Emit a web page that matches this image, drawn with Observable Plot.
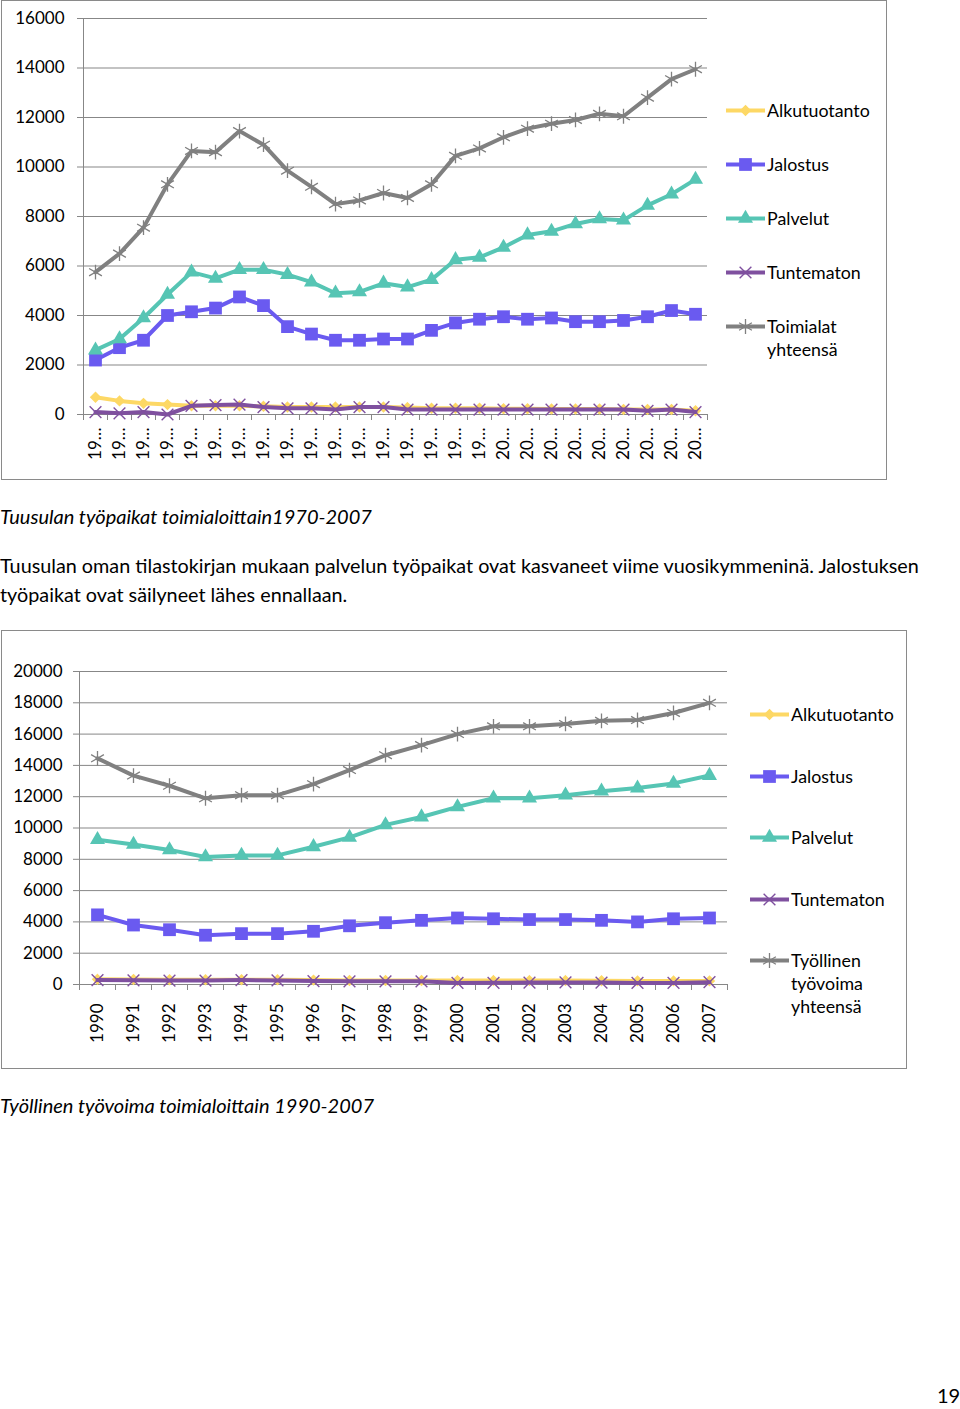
<!DOCTYPE html>
<html>
<head>
<meta charset="utf-8">
<script src="https://cdn.jsdelivr.net/npm/d3@7"></script>
<script src="https://cdn.jsdelivr.net/npm/@observablehq/plot@0.6"></script>
<style>
  body { margin: 0; background: #fff; font-family: Lato, "Open Sans", sans-serif; color: #000; }
  #page { position: relative; width: 960px; height: 1409px; overflow: hidden; }
  .box { position: absolute; border: 1px solid #8a8a8a; box-sizing: border-box; }
  .abs { position: absolute; white-space: nowrap; }
  .cap { font-style: italic; font-size: 20px; line-height: 24px; }
  .para { font-size: 19.8px; line-height: 24px; }
  .leg { position: absolute; font-size: 17.8px; line-height: 23px; white-space: nowrap; }
  .leg svg { position: absolute; left: 0; top: 0; overflow: visible; }
</style>
</head>
<body>
<div id="page"></div>
<script>
// ---------- Data: chart 1 (Tuusulan työpaikat toimialoittain 1970-2007) ----------
const cats1 = ["19…","19…","19…","19…","19…","19…","19…","19…","19…","19…","19…","19…","19…","19…","19…","19…","19…",
               "20…","20…","20…","20…","20…","20…","20…","20…","20…"];
const alku1 = [700, 550, 450, 400, 350, 350, 350, 330, 300, 300, 300, 300, 300, 280, 250, 250, 250, 230, 230, 220, 220, 220, 200, 200, 200, 150];
const jal1  = [2200, 2700, 3000, 4000, 4150, 4300, 4750, 4400, 3550, 3250, 3000, 3000, 3050, 3050, 3400, 3700, 3850, 3950, 3850, 3900, 3750, 3750, 3800, 3950, 4200, 4050];
const pal1  = [2600, 3050, 3900, 4850, 5750, 5500, 5850, 5850, 5650, 5350, 4900, 4950, 5300, 5150, 5450, 6250, 6350, 6750, 7250, 7400, 7700, 7900, 7850, 8450, 8900, 9500];
const tun1  = [100, 50, 100, 0, 350, 380, 400, 300, 250, 250, 200, 300, 300, 200, 200, 200, 200, 200, 200, 200, 200, 200, 200, 150, 200, 100];
const tot1  = [5750, 6500, 7550, 9300, 10650, 10600, 11450, 10900, 9850, 9200, 8500, 8650, 8950, 8750, 9300, 10450, 10750, 11200, 11550, 11750, 11900, 12150, 12050, 12800, 13550, 13950];
const yTicks1 = [0, 2000, 4000, 6000, 8000, 10000, 12000, 14000, 16000];

// ---------- Data: chart 2 (Työllinen työvoima toimialoittain 1990-2007) ----------
const cats2 = ["1990","1991","1992","1993","1994","1995","1996","1997","1998","1999","2000","2001","2002","2003","2004","2005","2006","2007"];
const alku2 = [330, 320, 300, 300, 300, 300, 280, 260, 260, 260, 250, 250, 250, 250, 240, 230, 230, 230];
const jal2  = [4450, 3800, 3500, 3150, 3250, 3250, 3400, 3750, 3950, 4100, 4250, 4200, 4150, 4150, 4100, 4000, 4200, 4250];
const pal2  = [9250, 8950, 8600, 8150, 8250, 8250, 8800, 9400, 10200, 10700, 11350, 11900, 11900, 12100, 12350, 12550, 12850, 13350];
const tun2  = [280, 270, 250, 250, 280, 260, 220, 200, 200, 200, 100, 110, 120, 130, 120, 100, 100, 150];
const tot2  = [14450, 13350, 12700, 11900, 12100, 12100, 12800, 13700, 14650, 15300, 16000, 16500, 16500, 16650, 16850, 16900, 17350, 18000];
const yTicks2 = [0, 2000, 4000, 6000, 8000, 10000, 12000, 14000, 16000, 18000, 20000];

const names1 = ["Alkutuotanto", "Jalostus", "Palvelut", "Tuntematon", "Toimialat\nyhteensä"];
const names2 = ["Alkutuotanto", "Jalostus", "Palvelut", "Tuntematon", "Työllinen\ntyövoima\nyhteensä"];

// ---------- Styles ----------
const GRID = "#878787";
const styles = [
  {color: "#FDD865", symbol: "diamond2", r: 4.2, fill: true,  sw: 1.5},
  {color: "#6A5AF0", symbol: "square",   r: 7.2, fill: true,  sw: 0},
  {color: "#56C5B4", symbol: "triangle", r: 5.6, fill: true,  sw: 0},
  {color: "#7F509F", symbol: "times",    r: 5.4, fill: false, sw: 1.4},
  {color: "#808080", symbol: "asterisk", r: 7,   fill: false, sw: 1.3}
];
const symMap = {diamond2: d3.symbolDiamond2, square: d3.symbolSquare, triangle: d3.symbolTriangle, times: d3.symbolTimes, asterisk: d3.symbolAsterisk};

const page = document.getElementById("page");

function seriesMarks(vals, st) {
  return [
    Plot.line(vals, {x: (d, i) => i, y: d => d, stroke: st.color, strokeWidth: 4, strokeLinejoin: "round"}),
    Plot.dot(vals, {x: (d, i) => i, y: d => d, symbol: st.symbol, r: st.r,
      fill: st.fill ? st.color : "none", stroke: st.sw ? st.color : "none", strokeWidth: st.sw})
  ];
}

function chart({cats, series, yMax, yTicks, width, height, mL, mR, mT, mB, yPad, xPad}) {
  const n = cats.length;
  const step = (width - mL - mR) / n;
  return Plot.plot({
    width, height, marginLeft: mL, marginRight: mR, marginTop: mT, marginBottom: mB,
    style: {fontFamily: "Lato, 'Open Sans', sans-serif", fontSize: "17px", background: "transparent", overflow: "visible", color: "#000"},
    x: {type: "point", domain: d3.range(n), padding: 0.5, align: 0.5},
    y: {domain: [0, yMax]},
    marks: [
      Plot.gridY(yTicks, {stroke: GRID, strokeOpacity: 1, strokeWidth: 1}),
      Plot.frame({anchor: "left", stroke: GRID, strokeWidth: 1}),
      Plot.axisY(yTicks, {tickSize: 6, tickPadding: yPad, stroke: GRID, fill: "#000", fontSize: 17, tickFormat: d => String(d)}),
      Plot.axisX(d3.range(n), {tickSize: 6, stroke: GRID, dx: -step / 2, tickFormat: () => ""}),
      Plot.axisX([n - 1], {tickSize: 6, stroke: GRID, dx: step / 2, tickFormat: () => ""}),
      Plot.axisX(d3.range(n), {tickSize: 0, tickPadding: xPad, tickRotate: -90, fill: "#000", fontSize: 17, tickFormat: i => cats[i]}),
      ...series.flatMap((vals, k) => seriesMarks(vals, styles[k]))
    ]
  });
}

function place(el, left, top) {
  el.style.position = "absolute";
  el.style.left = left + "px";
  el.style.top = top + "px";
  page.appendChild(el);
}

function box(left, top, w, h) {
  const b = document.createElement("div");
  b.className = "box";
  b.style.width = w + "px"; b.style.height = h + "px";
  place(b, left, top);
}

function legend(names, lineLeft, tops) {
  names.forEach((name, k) => {
    const st = styles[k];
    const item = document.createElement("div");
    item.className = "leg";
    const svg = d3.create("svg").attr("width", 40).attr("height", 23);
    svg.append("line").attr("x1", 0).attr("x2", 39).attr("y1", 11.5).attr("y2", 11.5)
      .attr("stroke", st.color).attr("stroke-width", 4);
    svg.append("path").attr("transform", "translate(19.5,11.5)")
      .attr("d", d3.symbol(symMap[st.symbol], Math.PI * st.r * st.r)())
      .attr("fill", st.fill ? st.color : "none")
      .attr("stroke", st.sw ? st.color : "none")
      .attr("stroke-width", st.sw);
    item.appendChild(svg.node());
    const txt = document.createElement("div");
    txt.style.position = "absolute";
    txt.style.left = "41px";
    txt.style.top = "0px";
    txt.innerHTML = name.split("\n").join("<br>");
    item.appendChild(txt);
    place(item, lineLeft, tops[k] - 11.5);
  });
}

function text(str, cls, left, top, extra) {
  const d = document.createElement("div");
  d.className = "abs " + cls;
  d.textContent = str;
  if (extra) Object.assign(d.style, extra);
  place(d, left, top);
  return d;
}

// ---------- Chart 1 ----------
box(1, 0, 886, 480);
place(chart({cats: cats1, series: [alku1, jal1, pal1, tun1, tot1], yMax: 16000, yTicks: yTicks1,
  width: 887, height: 480, mL: 83, mR: 180, mT: 18, mB: 66, yPad: 13, xPad: 13}), 0, 0);
legend(names1, 726, [110, 164, 218, 272, 326]);

text("Tuusulan työpaikat toimialoittain1970-2007", "cap", 0, 504);
text("Tuusulan oman tilastokirjan mukaan palvelun työpaikat ovat kasvaneet viime vuosikymmeninä. Jalostuksen", "para", 0, 553);
text("työpaikat ovat säilyneet lähes ennallaan.", "para", 0, 582);

// ---------- Chart 2 ----------
box(1, 630, 906, 439);
place(chart({cats: cats2, series: [alku2, jal2, pal2, tun2, tot2], yMax: 20000, yTicks: yTicks2,
  width: 907, height: 439, mL: 79, mR: 180, mT: 41, mB: 85, yPad: 11, xPad: 19}), 0, 630);
legend(names2, 750, [714, 776, 837, 899, 960]);

text("Työllinen työvoima toimialoittain 1990-2007", "cap", 0, 1093);
text("19", "para", 937, 1384, {fontSize: "20px", lineHeight: "22px"});
</script>
</body>
</html>
